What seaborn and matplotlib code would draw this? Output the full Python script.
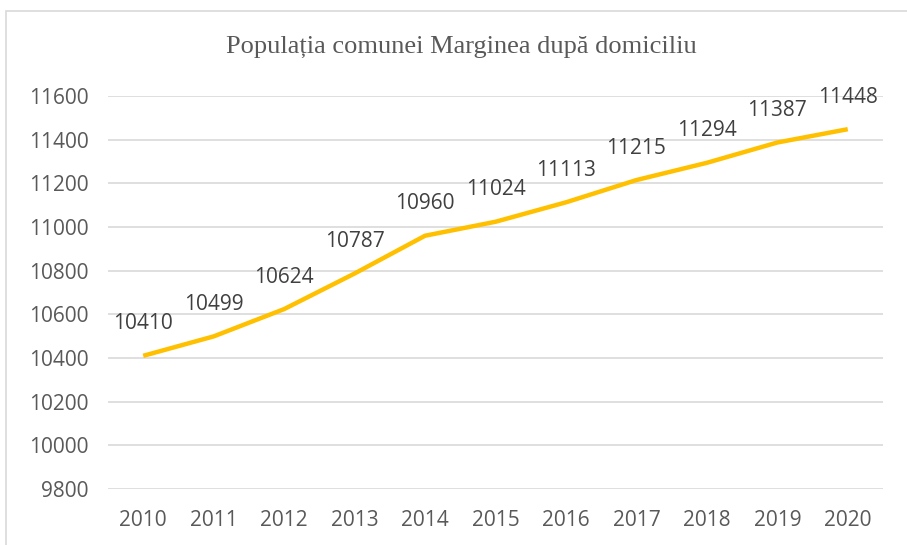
import matplotlib
matplotlib.use("Agg")
import matplotlib.pyplot as plt
import seaborn as sns
import pandas as pd
from matplotlib.patches import Rectangle

years = [2010, 2011, 2012, 2013, 2014, 2015, 2016, 2017, 2018, 2019, 2020]
population = [10410, 10499, 10624, 10787, 10960, 11024, 11113, 11215, 11294, 11387, 11448]
yticks = [9800, 10000, 10200, 10400, 10600, 10800, 11000, 11200, 11400, 11600]
title = "Populația comunei Marginea după domiciliu"

sns.set_theme(style="white")
plt.rcParams['font.family'] = ['Open Sans', 'DejaVu Sans']

df = pd.DataFrame({"year": years, "pop": population})

fig = plt.figure(figsize=(9.07, 5.45), dpi=100)
ax = fig.add_axes([108/907, 1-489/545, (883-108)/907, (489-96)/545])

sns.lineplot(data=df, x="year", y="pop", ax=ax, color="#FFC000", linewidth=3.2,
             solid_capstyle="butt", solid_joinstyle="round", zorder=3)

ax.set_xlim(2009.5, 2020.5)
ax.set_ylim(9800, 11600)
ax.set_yticks(yticks)
ax.set_xticks(years)
ax.set_xticklabels([str(y) for y in years])
ax.set_yticklabels([str(v) for v in yticks])
ax.yaxis.grid(True, color="#d9d9d9", linewidth=1.2, zorder=0)
ax.xaxis.grid(False)
for s in ax.spines.values():
    s.set_visible(False)
ax.tick_params(axis="both", length=0, labelsize=15, colors="#595959")
ax.tick_params(axis="y", pad=14)
ax.tick_params(axis="x", pad=15)
ax.set_xlabel("")
ax.set_ylabel("")

for x, y in zip(years, population):
    ax.annotate(str(y), (x, y), xytext=(0, 23), textcoords="offset points",
                ha="center", va="center", fontsize=15, color="#404040")

fig.text(461/907, 1-47/545, title, ha="center", va="center",
         fontsize=19, color="#595959", family=["Liberation Serif", "DejaVu Serif"])

fig.patches.append(Rectangle((6/907, -0.05), 1.05, 1-11/545+0.05, transform=fig.transFigure,
                             fill=False, edgecolor="#d9d9d9", linewidth=1.2, figure=fig))

fig.savefig("out.png", dpi=100)
